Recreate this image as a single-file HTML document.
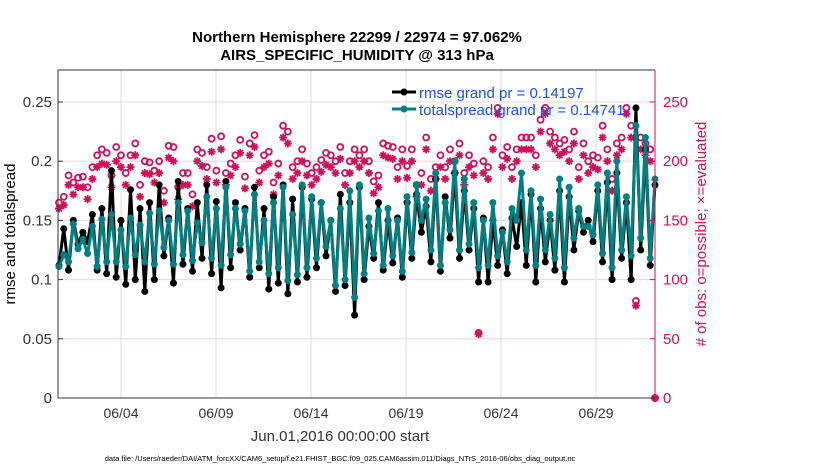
<!DOCTYPE html>
<html><head><meta charset="utf-8"><style>
body{margin:0;background:#fff;}
svg text{font-family:"Liberation Sans",sans-serif;}
</style></head><body>
<svg id="chart" width="830" height="470" viewBox="0 0 830 470">
<g id="grid"></g>
<g id="series"></g>
<g id="axes"></g>
<text x="357" y="42" text-anchor="middle" font-size="15" font-weight="bold">Northern Hemisphere 22299 / 22974 = 97.062%</text>
<text x="357" y="60" text-anchor="middle" font-size="15" font-weight="bold">AIRS_SPECIFIC_HUMIDITY @ 313 hPa</text>
<text transform="translate(15,234) rotate(-90)" text-anchor="middle" font-size="15">rmse and totalspread</text>
<text transform="translate(706,234) rotate(-90)" text-anchor="middle" font-size="15" fill="#d0105a"># of obs: o=possible; ×=evaluated</text>
<text x="340" y="441" text-anchor="middle" font-size="15" fill="#333">Jun.01,2016 00:00:00 start</text>
<text x="340" y="461" text-anchor="middle" font-size="7.5">data file: /Users/raeder/DAI/ATM_forcXX/CAM6_setup/f.e21.FHIST_BGC.f09_025.CAM6assim.011/Diags_NTrS_2016-06/obs_diag_output.nc</text>
<g>
<line x1="392" y1="92" x2="416" y2="92" stroke="#000" stroke-width="3"/><circle cx="404" cy="92" r="3.5" fill="#000"/>
<text x="419" y="98" font-size="15" fill="#1a4fff">rmse grand pr = 0.14197</text>
<line x1="392" y1="109" x2="416" y2="109" stroke="#008080" stroke-width="3"/><circle cx="404" cy="109" r="3.5" fill="#008080"/>
<text x="419" y="115" font-size="15" fill="#1a4fff">totalspread grand pr = 0.14741</text>
</g>
</svg>
<script>
const xTickLabels=["06/04","06/09","06/14","06/19","06/24","06/29"];
const xTickDays=[3,8,13,18,23,28];
const leftTicks=[0,0.05,0.1,0.15,0.2,0.25];
const rightTicks=[0,50,100,150,200,250];
const spread=[0.111,0.121,0.115,0.147,0.126,0.134,0.122,0.145,0.111,0.151,0.115,0.155,0.115,0.142,0.111,0.152,0.121,0.146,0.115,0.156,0.113,0.158,0.127,0.150,0.113,0.165,0.121,0.158,0.116,0.148,0.131,0.170,0.118,0.160,0.112,0.178,0.121,0.160,0.130,0.158,0.107,0.172,0.115,0.150,0.105,0.165,0.110,0.178,0.099,0.155,0.104,0.180,0.110,0.170,0.118,0.165,0.128,0.150,0.095,0.160,0.100,0.175,0.085,0.180,0.105,0.152,0.122,0.158,0.112,0.160,0.120,0.150,0.107,0.170,0.123,0.180,0.150,0.168,0.125,0.190,0.112,0.165,0.142,0.200,0.125,0.185,0.130,0.165,0.110,0.150,0.112,0.165,0.120,0.140,0.115,0.160,0.150,0.190,0.125,0.175,0.112,0.168,0.125,0.155,0.118,0.185,0.110,0.178,0.135,0.160,0.145,0.145,0.138,0.180,0.122,0.190,0.110,0.200,0.125,0.170,0.120,0.230,0.135,0.220,0.118,0.185];
const rmse=[0.112,0.143,0.108,0.150,0.130,0.140,0.132,0.155,0.108,0.160,0.105,0.192,0.102,0.150,0.096,0.176,0.100,0.160,0.090,0.165,0.100,0.180,0.120,0.152,0.097,0.183,0.113,0.160,0.107,0.165,0.118,0.180,0.105,0.166,0.093,0.183,0.110,0.165,0.125,0.160,0.102,0.178,0.110,0.160,0.092,0.170,0.097,0.180,0.088,0.168,0.098,0.178,0.102,0.168,0.110,0.165,0.120,0.150,0.090,0.172,0.095,0.165,0.070,0.178,0.100,0.145,0.118,0.165,0.108,0.150,0.114,0.152,0.102,0.165,0.118,0.172,0.140,0.162,0.115,0.185,0.107,0.170,0.135,0.190,0.118,0.175,0.125,0.160,0.098,0.152,0.098,0.150,0.112,0.142,0.105,0.152,0.128,0.165,0.112,0.172,0.098,0.160,0.115,0.150,0.108,0.175,0.098,0.170,0.125,0.158,0.140,0.150,0.132,0.175,0.115,0.182,0.100,0.190,0.118,0.165,0.100,0.245,0.125,0.210,0.112,0.180];
const possible=[165,170,188,182,186,187,178,195,205,210,207,188,212,205,190,205,215,180,200,199,192,200,175,213,212,178,190,190,172,210,207,195,219,192,221,190,198,205,218,187,215,222,192,205,208,182,198,230,225,195,200,210,198,190,195,201,207,205,200,212,190,200,210,205,210,200,183,188,215,213,212,195,210,196,210,180,190,220,185,195,205,195,210,200,215,190,205,198,55,200,195,220,245,205,212,195,210,220,220,220,205,235,245,225,220,215,218,210,225,195,215,200,205,203,230,210,185,215,220,245,230,82,220,215,210,0];
const evaluated=[160,163,180,172,178,178,168,185,195,198,197,178,200,195,180,195,205,170,190,189,182,190,165,203,200,168,180,180,162,200,196,185,208,182,210,180,188,195,207,177,205,212,182,195,198,172,188,220,215,185,190,200,188,180,185,191,197,195,190,202,180,190,200,195,200,190,173,178,205,203,202,185,200,186,200,170,180,210,175,185,195,185,200,190,205,180,195,188,54,190,185,210,240,195,202,185,200,210,210,210,195,225,240,215,210,205,208,200,215,185,205,190,195,193,220,200,175,205,210,240,220,78,210,205,200,0];

const NS="http://www.w3.org/2000/svg";
const X0=58,X1=655,Y0=70,Y1=398;
const yL=v=>Y1-v*1184;
const yR=v=>Y1-v*1.184;
const xDay=d=>64+d*19;
const xIdx=(i,n)=>59+i*(655-59)/(n-1);
function mk(tag,attrs,parent){const e=document.createElementNS(NS,tag);for(const k in attrs)e.setAttribute(k,attrs[k]);parent.appendChild(e);return e;}
const grid=document.getElementById('grid'),axes=document.getElementById('axes'),ser=document.getElementById('series');
mk('rect',{x:X0,y:Y0,width:X1-X0,height:Y1-Y0,fill:'#fff'},grid);
xTickDays.forEach((d,i)=>{
  const g=mk('line',{x1:xDay(d),x2:xDay(d),y1:Y0,y2:Y1,stroke:'#ddd','stroke-width':1},grid);
  
  
  const t=mk('text',{x:xDay(d),y:418,'text-anchor':'middle','font-size':14,fill:'#333'},axes);
  t.textContent=xTickLabels[i];
  
  
});
leftTicks.forEach(v=>{
  const g=mk('line',{x1:X0,x2:X1,y1:yL(v),y2:yL(v),stroke:'#f5d0de','stroke-width':1},grid);
  
  
  const t=mk('text',{x:X0-6,y:yL(v)+5,'text-anchor':'end','font-size':15,fill:'#333'},axes);
  t.textContent=String(v);
  
  
  mk('line',{x1:X0,x2:X0+5,y1:yL(v),y2:yL(v),stroke:'#333'},axes);
});
rightTicks.forEach(v=>{
  const t=mk('text',{x:X1+8,y:yR(v)+5,'font-size':15,fill:'#d0105a'},axes);
  t.textContent=String(v);
  
  
  mk('line',{x1:X1-5,x2:X1,y1:yR(v),y2:yR(v),stroke:'#d0105a'},axes);
});
mk('line',{x1:X0,x2:X0,y1:Y0,y2:Y1,stroke:'#333'},axes);
mk('line',{x1:X0,x2:X1,y1:Y1,y2:Y1,stroke:'#333'},axes);
mk('line',{x1:X0,x2:X1,y1:Y0,y2:Y0,stroke:'#333'},axes);
mk('line',{x1:X1,x2:X1,y1:Y0,y2:Y1,stroke:'#d0105a'},axes);

possible.forEach((v,i)=>{
  const c=mk('circle',{cx:xIdx(i,possible.length),cy:yR(v),r:3,fill:'none',stroke:'#d0105a','stroke-width':1.8},ser);
  
  
});
evaluated.forEach((v,i)=>{
  const x=xIdx(i,evaluated.length),y=yR(v),r=4;
  const p=mk('path',{d:`M${x-r},${y}H${x+r}M${x},${y-r}V${y+r}M${x-r*0.7},${y-r*0.7}L${x+r*0.7},${y+r*0.7}M${x-r*0.7},${y+r*0.7}L${x+r*0.7},${y-r*0.7}`,stroke:'#d0105a','stroke-width':1.8,fill:'none'},ser);
  
  
});
function line(arr,color,name){
  const pts=arr.map((v,i)=>xIdx(i,arr.length)+','+yL(v)).join(' ');
  const p=mk('polyline',{points:pts,fill:'none',stroke:color,'stroke-width':3,'stroke-linejoin':'round'},ser);
  
  
  arr.forEach((v,i)=>{
    const c=mk('circle',{cx:xIdx(i,arr.length),cy:yL(v),r:3.5,fill:color},ser);
    
    
  });
}
line(rmse,'#000','rmse');
line(spread,'#008080','totalspread');
</script>
</body></html>
